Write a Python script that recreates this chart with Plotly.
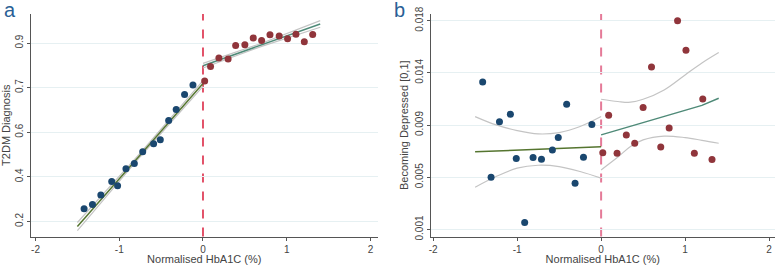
import plotly.graph_objects as go

# ---------------- Panel a data ----------------
a_blue_x = [-1.42, -1.32, -1.22, -1.09, -1.02, -0.92, -0.82, -0.72, -0.59, -0.51, -0.41, -0.32, -0.22, -0.12]
a_blue_y = [0.250, 0.267, 0.304, 0.357, 0.340, 0.407, 0.427, 0.474, 0.505, 0.521, 0.596, 0.639, 0.698, 0.735]
a_red_x = [0.02, 0.09, 0.19, 0.30, 0.39, 0.50, 0.60, 0.70, 0.80, 0.91, 1.01, 1.11, 1.21, 1.31]
a_red_y = [0.751, 0.808, 0.841, 0.837, 0.890, 0.893, 0.920, 0.910, 0.933, 0.928, 0.917, 0.935, 0.905, 0.934]

a_left_x = [-1.5, -0.75, 0.0]
a_left_fit = [0.180, 0.461, 0.741]
a_left_hi = [0.196, 0.468, 0.753]
a_left_lo = [0.164, 0.454, 0.730]
a_right_x = [0.0, 0.7, 1.4]
a_right_fit = [0.811, 0.893, 0.975]
a_right_hi = [0.820, 0.899, 0.988]
a_right_lo = [0.802, 0.887, 0.962]

a_tickvals = [0.2, 0.375, 0.55, 0.725, 0.9]
a_ticktext = ["0.2", "0.4", "0.6", "0.7", "0.9"]

# ---------------- Panel b data ----------------
b_blue_x = [-1.41, -1.31, -1.21, -1.08, -1.01, -0.91, -0.81, -0.71, -0.58, -0.51, -0.41, -0.31, -0.21, -0.11]
b_blue_y = [0.01301, 0.00526, 0.00978, 0.01038, 0.00678, 0.00157, 0.00686, 0.00672, 0.00748, 0.00848, 0.01119, 0.00477, 0.00688, 0.00954]
b_red_x = [0.02, 0.09, 0.19, 0.30, 0.40, 0.50, 0.60, 0.71, 0.81, 0.91, 1.01, 1.11, 1.21, 1.32]
b_red_y = [0.00724, 0.01030, 0.00721, 0.00870, 0.00802, 0.01092, 0.01423, 0.00772, 0.00927, 0.01800, 0.01559, 0.00721, 0.01163, 0.00669]

b_left_x = [-1.5, -1.25, -1.0, -0.75, -0.5, -0.25, 0.0]
b_left_fit = [0.00732, 0.00739, 0.00746, 0.00753, 0.00760, 0.00767, 0.00774]
b_left_hi = [0.01019, 0.00951, 0.00905, 0.00878, 0.00889, 0.00938, 0.01019]
b_left_lo = [0.00444, 0.00531, 0.00599, 0.00623, 0.00612, 0.00572, 0.00518]
b_right_x = [0.0, 0.2, 0.35, 0.5, 0.75, 1.0, 1.2, 1.4]
b_right_fit = [0.00870, 0.00910, 0.00940, 0.00970, 0.01020, 0.01070, 0.01110, 0.01168]
b_right_hi = [0.01160, 0.01142, 0.01136, 0.01160, 0.01236, 0.01358, 0.01455, 0.01540]
b_right_lo = [0.00585, 0.00690, 0.00775, 0.00829, 0.00860, 0.00848, 0.00826, 0.00802]

b_tickvals = [0.001, 0.00525, 0.0095, 0.01375, 0.018]
b_ticktext = ["0.001", "0.005", "0.009", "0.014", "0.018"]

x_tickvals = [-2, -1, 0, 1, 2]
x_ticktext = ["-2", "-1", "0", "1", "2"]

BLUE = "#1a476f"
RED = "#90353b"
GREEN = "#55752f"
TEAL = "#4f8a78"
GRAY = "#c4c4c4"
FONT = "Liberation Sans, Arial, sans-serif"

fig = go.Figure()

def add_panel(xa, ya, bx, by, rx, ry, lx, lfit, lhi, llo, rxx, rfit, rhi, rlo, shape):
    for xs, ys in [(lx, lhi), (lx, llo), (rxx, rhi), (rxx, rlo)]:
        fig.add_trace(go.Scatter(x=xs, y=ys, mode="lines", line=dict(color=GRAY, width=1.2, shape=shape),
                                 xaxis=xa, yaxis=ya, showlegend=False, hoverinfo="skip"))
    fig.add_trace(go.Scatter(x=lx, y=lfit, mode="lines", line=dict(color=GREEN, width=1.5),
                             xaxis=xa, yaxis=ya, showlegend=False))
    fig.add_trace(go.Scatter(x=rxx, y=rfit, mode="lines", line=dict(color=TEAL, width=1.5),
                             xaxis=xa, yaxis=ya, showlegend=False))
    fig.add_trace(go.Scatter(x=bx, y=by, mode="markers", marker=dict(color=BLUE, size=7),
                             xaxis=xa, yaxis=ya, showlegend=False))
    fig.add_trace(go.Scatter(x=rx, y=ry, mode="markers", marker=dict(color=RED, size=7),
                             xaxis=xa, yaxis=ya, showlegend=False))

add_panel("x", "y", a_blue_x, a_blue_y, a_red_x, a_red_y,
          a_left_x, a_left_fit, a_left_hi, a_left_lo,
          a_right_x, a_right_fit, a_right_hi, a_right_lo, "linear")
add_panel("x2", "y2", b_blue_x, b_blue_y, b_red_x, b_red_y,
          b_left_x, b_left_fit, b_left_hi, b_left_lo,
          b_right_x, b_right_fit, b_right_hi, b_right_lo, "spline")

axis_common = dict(showline=True, linecolor="#555555", linewidth=1, ticks="outside", ticklen=3,
                   tickcolor="#555555", tickfont=dict(family=FONT, size=10, color="#444444"),
                   zeroline=False, mirror=False, automargin=False)
title_font = dict(family=FONT, size=11, color="#444444")

ydom = [1 - 236.5 / 265, 1 - 14 / 265]
fig.update_layout(
    width=777, height=265,
    margin=dict(l=0, r=0, t=0, b=0),
    paper_bgcolor="white", plot_bgcolor="white",
    font=dict(family=FONT),
    xaxis=dict(domain=[30.5 / 777, 378 / 777], range=[-2.06, 2.09], tickvals=x_tickvals, ticktext=x_ticktext,
               showgrid=False, anchor="y",
               title=dict(text="Normalised HbA1C (%)", font=title_font, standoff=3),
               **axis_common),
    yaxis=dict(domain=ydom, range=[0.141, 1.014], tickvals=a_tickvals, ticktext=a_ticktext, tickangle=-90,
               showgrid=True, gridcolor="#e6f0f2", gridwidth=1, anchor="x",
               title=dict(text="T2DM Diagnosis", font=title_font, standoff=2),
               **axis_common),
    xaxis2=dict(domain=[430.5 / 777, 775 / 777], range=[-2.031, 2.07], tickvals=x_tickvals, ticktext=x_ticktext,
                showgrid=False, anchor="y2",
                title=dict(text="Normalised HbA1C (%)", font=title_font, standoff=3),
                **axis_common),
    yaxis2=dict(domain=ydom, range=[0.00043, 0.01854], tickvals=b_tickvals, ticktext=b_ticktext, tickangle=-90,
                showgrid=True, gridcolor="#e6f0f2", gridwidth=1, anchor="x2",
                title=dict(text="Becoming Depressed [0,1]", font=title_font, standoff=2),
                **axis_common),
    shapes=[
        dict(type="line", xref="x", yref="y domain", x0=0, x1=0, y0=0, y1=1,
             line=dict(color="#e0405a", width=1.8, dash="dash"), layer="below"),
        dict(type="line", xref="x2", yref="y2 domain", x0=0, x1=0, y0=0, y1=1,
             line=dict(color="#e57a98", width=2, dash="dash"), layer="below"),
    ],
    annotations=[
        dict(text="a", x=2 / 777, y=1 + 3 / 265, xref="paper", yref="paper", xanchor="left", yanchor="top",
             showarrow=False, font=dict(family=FONT, size=20, color="#2a5f96")),
        dict(text="b", x=392 / 777, y=1 + 3 / 265, xref="paper", yref="paper", xanchor="left", yanchor="top",
             showarrow=False, font=dict(family=FONT, size=20, color="#2a5f96")),
    ],
)

fig.write_html("out.html", config={"displayModeBar": False},
               post_script="document.body.style.margin='0';document.body.style.padding='0';")
